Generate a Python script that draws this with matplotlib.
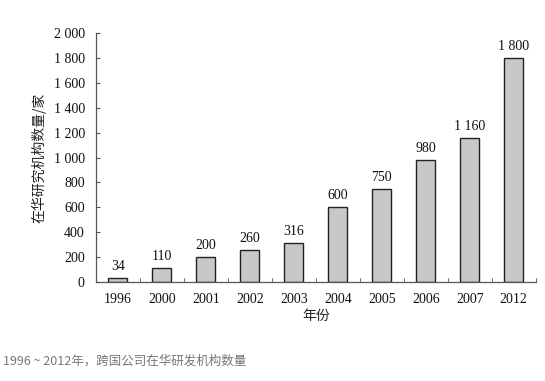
import matplotlib
matplotlib.use("Agg")
import matplotlib.pyplot as plt
from matplotlib.ticker import FixedLocator

years = ["1996", "2000", "2001", "2002", "2003", "2004", "2005", "2006", "2007", "2012"]
counts = [34, 110, 200, 260, 316, 600, 750, 980, 1160, 1800]
bar_labels = ["34", "110", "200", "260", "316", "600", "750", "980", "1 160", "1 800"]
yticks = [0, 200, 400, 600, 800, 1000, 1200, 1400, 1600, 1800, 2000]
ytick_labels = ["0", "200", "400", "600", "800", "1 000", "1 200", "1 400", "1 600", "1 800", "2 000"]

serif = ["Liberation Serif", "DejaVu Serif"]
cjk = ["Noto Sans CJK SC", "DejaVu Sans"]

fig = plt.figure(figsize=(5.45, 3.81), dpi=100)
ax = fig.add_axes([0.176, 0.26, 0.807, 0.653])

x = list(range(len(years)))
ax.bar(x, counts, width=0.43, color="#c8c8c8", edgecolor="#222222", linewidth=1.0)
for xi, v, lab in zip(x, counts, bar_labels):
    ax.text(xi, v + 40, lab, ha="center", va="bottom", fontsize=10, family=serif, color="#111111")

ax.set_xlim(-0.5, len(years) - 0.5)
ax.set_ylim(0, 2000)
ax.set_yticks(yticks)
ax.set_yticklabels(ytick_labels, family=serif, fontsize=10, color="#111111")
ax.set_xticks(x)
ax.set_xticklabels(years, family=serif, fontsize=10, color="#111111")
ax.tick_params(axis="x", which="major", length=0, pad=8)
ax.xaxis.set_minor_locator(FixedLocator([i + 0.5 for i in range(-1, len(years))]))
ax.tick_params(axis="x", which="minor", direction="in", length=3, color="#555555")
ax.tick_params(axis="y", direction="in", length=3, color="#555555", pad=8)

for s in ["top", "right"]:
    ax.spines[s].set_visible(False)
for s in ["left", "bottom"]:
    ax.spines[s].set_color("#555555")
    ax.spines[s].set_linewidth(0.9)

ax.set_xlabel("年份", family=cjk, fontsize=10, labelpad=2, color="#222222")
ax.set_ylabel("在华研究机构数量/家", family=cjk, fontsize=10, labelpad=5, color="#222222")

fig.text(0.006, 0.042, "1996 ~ 2012年，跨国公司在华研发机构数量", family=cjk, fontsize=9, color="#777777")

fig.savefig("out.png", dpi=100)
